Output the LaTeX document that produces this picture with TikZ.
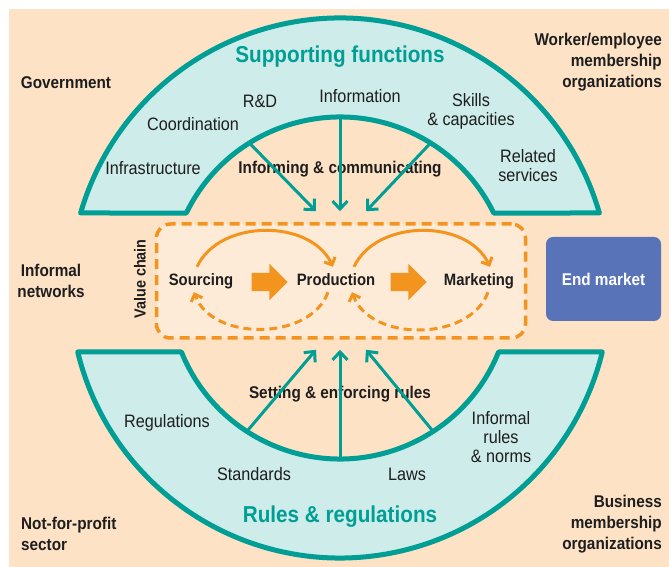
\documentclass[tikz,border=0pt]{standalone}
\usepackage{fontspec}
\setmainfont[FakeStretch=0.9]{Liberation Sans}
\usetikzlibrary{arrows.meta,shapes.arrows,positioning}

\definecolor{peach}{RGB}{253,226,198}
\definecolor{cream}{RGB}{254,235,215}
\definecolor{ringteal}{RGB}{0,158,148}
\definecolor{ringfill}{RGB}{205,236,234}
\definecolor{chain}{RGB}{242,148,30}
\definecolor{market}{RGB}{89,115,184}
\definecolor{ink}{RGB}{30,30,30}

\begin{document}
\begin{tikzpicture} [x = 1pt, y = 1pt, line join = round,
  band/.style = {draw = ringteal, fill = ringfill, line width = 5pt},
  item/.style = {font = \fontsize{18}{19}\selectfont, text = ink, align = center, inner sep = 0pt},
  actor/.style = {font = \bfseries\fontsize{17}{21}\selectfont, text = ink, align = center, inner sep = 0pt},
  title/.style = {font = \bfseries\fontsize{23}{26}\selectfont, text = ringteal, inner sep = 0pt},
  stage/.style = {font = \bfseries\fontsize{16.5}{20}\selectfont, text = ink, inner sep = 2pt, text height = 12pt, text depth = 4pt},
  link/.style = {draw = ringteal, line width = 3pt, -{Straight Barb[length = 8pt, width = 15pt]}},
  flow/.style = {draw = chain, line width = 3pt, -{Straight Barb[length = 6pt, width = 12pt]}},
  back/.style = {flow, dash pattern = on 8pt off 5pt},
  push/.style = {single arrow, fill = chain, inner xsep = 0pt, inner ysep = 9pt, minimum width = 36pt,
    minimum height = 36pt, single arrow head extend = 9pt}]

\useasboundingbox (0,0) rectangle (669,567);
\fill [peach] (9,0) rectangle (669,558);

\coordinate (c) at (340,279);

% the two bands
\draw [band] ([shift = {(16.13:270)}]c) arc [start angle = 16.13, end angle = 163.87, radius = 270]
  -- ([shift = {(154:171)}]c) arc [start angle = 154, end angle = 26, radius = 171] -- cycle;
\draw [band] ([shift = {(193.71:270)}]c) arc [start angle = 193.71, end angle = 346.29, radius = 270]
  -- ([shift = {(338.02:171)}]c) arc [start angle = 338.02, end angle = 201.98, radius = 171] -- cycle;

\node [title] (sup) at (340,510) {Supporting functions};
\node [title] (rul) at (340,50) {Rules \& regulations};

\node [item] (infra) at (153,399) {Infrastructure};
\node [item] (coord) at (193,443) {Coordination};
\node [item] (rd) at (260,466) {R\&D};
\node [item] (info) at (360,471) {Information};
\node [item] (skills) at (471,456) {Skills\\\& capacities};
\node [item] (related) at (528,401) {Related\\services};

\node [item] (regs) at (167,144) {Regulations};
\node [item] (stds) at (254,93) {Standards};
\node [item] (laws) at (407,93) {Laws};
\node [item] (norms) at (501,130) {Informal\\rules\\\& norms};

\node [actor] (inform) at (340,398) {Informing \& communicating};
\node [actor] (setting) at (340,173) {Setting \& enforcing rules};

\node [actor] (gov) at (66,484) {Government};
\node [actor, align = right, anchor = east] (worker) at (662,505) {Worker/employee\\membership\\organizations};
\node [actor] (networks) at (51,286) {Informal\\networks};
\node [actor, align = left, anchor = west] (nfp) at (21,33) {Not-for-profit\\sector};
\node [actor, align = right, anchor = east] (business) at (662,43) {Business\\membership\\organizations};

% value chain
\node [draw = chain, fill = cream, line width = 3.5pt, dash pattern = on 10pt off 6pt, rounded corners = 14pt,
  minimum width = 369pt, minimum height = 114pt] (vc) at (341,286) {};
\node [actor, rotate = 90, font = \bfseries\fontsize{16}{20}\selectfont] (vclabel) at (140,288) {Value chain};

\node [stage] (src) at (201,285) {Sourcing};
\node [stage] (prod) at (336,285) {Production};
\node [stage] (mkt) at (479,285) {Marketing};

\node [push] (p1) at (265,285) {};
\node [push] (p2) at (404,285) {};

\path ([shift = {(-4,5)}]src.north) edge [flow, out = 65, in = 115] ([shift = {(-3,5)}]prod.north);
\path ([shift = {(18,5)}]prod.north) edge [flow, out = 65, in = 115] ([shift = {(11,5)}]mkt.north);
\path ([shift = {(-8,0)}]prod.south) edge [back, out = -110, in = -70] ([shift = {(-7,0)}]src.south);
\path ([shift = {(9,0)}]mkt.south) edge [back, out = -110, in = -70] ([shift = {(16,0)}]prod.south);

\node [fill = market, rounded corners = 7pt, minimum width = 115pt, minimum height = 84pt,
  font = \bfseries\fontsize{17}{20}\selectfont, text = white] (endmkt) at (603.5,288) {End market};

% functions and rules feeding the chain
\coordinate (a1) at ([shift = {(122:171)}]c);
\coordinate (a2) at ([shift = {(90:171)}]c);
\coordinate (a3) at ([shift = {(58:171)}]c);
\coordinate (b1) at ([shift = {(237:171)}]c);
\coordinate (b2) at ([shift = {(270:171)}]c);
\coordinate (b3) at ([shift = {(303:171)}]c);

\path (a1) edge [link] ([shift = {(-25,11)}]vc.north);
\path (a2) edge [link] ([shift = {(-1,11)}]vc.north);
\path (a3) edge [link] ([shift = {(25,11)}]vc.north);

\path (b1) edge [link] ([shift = {(-25,-10)}]vc.south);
\path (b2) edge [link] ([shift = {(-1,-10)}]vc.south);
\path (b3) edge [link] ([shift = {(25,-10)}]vc.south);

\end{tikzpicture}
\end{document}
